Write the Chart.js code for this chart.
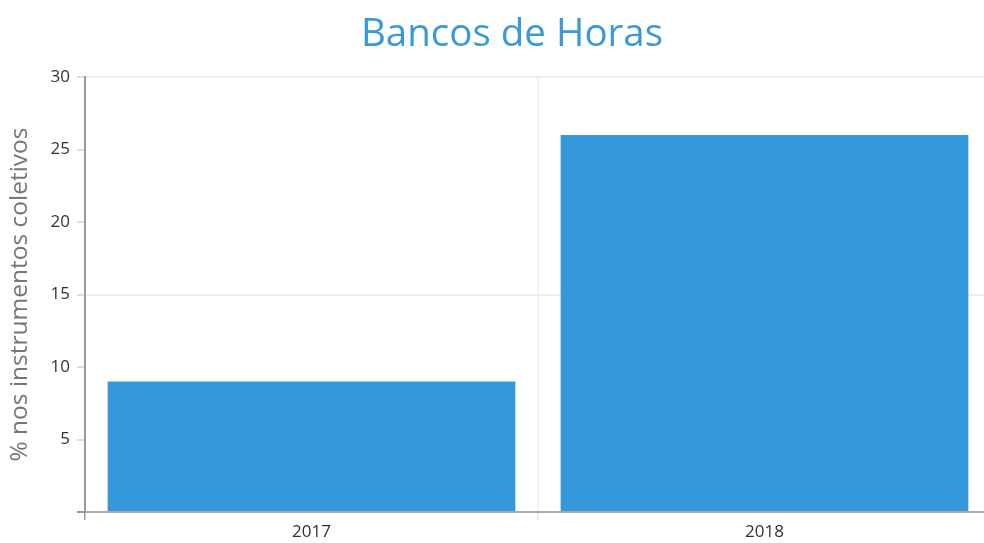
<!DOCTYPE html>
<html>
<head>
<meta charset="utf-8">
<script src="https://cdn.jsdelivr.net/npm/chart.js@4/dist/chart.umd.min.js"></script>
<style>
  html, body { margin: 0; padding: 0; overflow: hidden; background: #fff; }
  #wrap { width: 991px; height: 543px; }
</style>
</head>
<body>
<div id="wrap"><canvas id="chart"></canvas></div>
<script>
const years = ["2017", "2018"];
const bancoHoras = [9, 26];
const chartTitle = "Bancos de Horas";
const yTitle = "% nos instrumentos coletivos";

// title is drawn a bit off-centre in the original, so draw it by hand
const titlePlugin = {
  id: "plotTitle",
  afterDraw(chart) {
    const c = chart.ctx;
    c.save();
    c.font = "38.5px 'Open Sans'";
    c.fillStyle = "#3a9ad9";
    c.textAlign = "center";
    c.textBaseline = "alphabetic";
    c.fillText(chartTitle, 512, 46);
    c.restore();
  },
};

const ctx = document.getElementById("chart").getContext("2d");
new Chart(ctx, {
  type: "bar",
  data: {
    labels: years,
    datasets: [
      {
        label: chartTitle,
        data: bancoHoras,
        backgroundColor: "#3598db",
        barPercentage: 0.9,
        categoryPercentage: 1,
      },
    ],
  },
  plugins: [titlePlugin],
  options: {
    responsive: true,
    maintainAspectRatio: false,
    animation: false,
    layout: { padding: { top: 77, right: 0, bottom: 0, left: 0 } },
    plugins: {
      legend: { display: false },
      tooltip: { enabled: false },
    },
    scales: {
      x: {
        afterFit: (s) => { s.height = 31; },
        grid: {
          offset: true,
          color: "#eeeeee",
          lineWidth: 1.5,
          tickLength: 8,
          tickColor: (c) => (c.index === 0 ? "#999999" : "#e4e4e4"),
        },
        border: { color: "#aaaaaa", width: 2 },
        ticks: {
          color: "#333",
          padding: 2,
          font: { family: "'Open Sans'", size: 17 },
        },
      },
      y: {
        min: 0,
        max: 30,
        afterFit: (s) => { s.width = 85; },
        ticks: {
          stepSize: 5,
          color: "#333",
          padding: 7,
          font: { family: "'Open Sans'", size: 17 },
          callback: (v) => (v === 0 ? "" : v),
        },
        grid: {
          color: (c) => (c.tick && c.tick.value > 0 && c.tick.value % 15 === 0 ? "#eeeeee" : "rgba(0,0,0,0)"),
          lineWidth: 2,
          tickLength: 8,
          tickColor: (c) => (c.tick && c.tick.value === 0 ? "#999999" : "#dddddd"),
        },
        border: { color: "#999999", width: 2 },
        title: {
          display: true,
          text: yTitle,
          color: "#777",
          padding: { top: 5, bottom: 0 },
          font: { family: "'Open Sans'", size: 24.5 },
        },
      },
    },
  },
});
</script>
</body>
</html>
